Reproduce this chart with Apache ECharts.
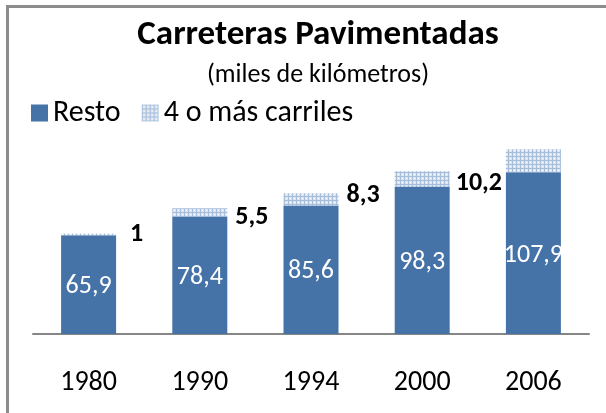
<!DOCTYPE html>
<html><head><meta charset="utf-8">
<script src="https://cdn.jsdelivr.net/npm/echarts@6/dist/echarts.min.js"></script>
<style>html,body{margin:0;padding:0;background:#fff}#c{width:606px;height:413px}</style>
</head><body><div id="c"></div>
<script>
const categories = ['1980', '1990', '1994', '2000', '2006'];
const resto = [65.9, 78.4, 85.6, 98.3, 107.9];
const carriles = [1, 5.5, 8.3, 10.2, 15.2];
const seriesNames = ['Resto', '4 o más carriles'];
// nudges [x, y] of the "4 o más carriles" value labels (px); 2006 label not shown
const carrilesLabelNudge = [[6, 0], [0, 5], [0, -4], [-2, 5]];

const FONT = 'Carlito, Calibri, Lato, sans-serif';
function makePattern() {
  const c = document.createElement('canvas');
  c.width = 4; c.height = 4;
  const g = c.getContext('2d');
  g.fillStyle = '#dbe5f1'; g.fillRect(0, 0, 4, 4);
  g.fillStyle = '#a7bedb'; g.fillRect(0, 0, 4, 1); g.fillRect(0, 0, 1, 4);
  g.fillStyle = '#ffffff'; g.fillRect(2, 2, 1, 1);
  return c;
}
const fmt = p => String(p.value).replace('.', ',');
const chart = echarts.init(document.getElementById('c'), null, {renderer: 'canvas'});
chart.setOption({
  animation: false,
  backgroundColor: '#fff',
  graphic: [{type: 'rect', shape: {x: 7.5, y: 6.5, width: 700, height: 500}, style: {fill: 'none', stroke: '#8c8c8c', lineWidth: 3}, silent: true}],
  title: [
    {text: 'Carreteras Pavimentadas', left: 313, top: 13, textAlign: 'center',
     textStyle: {fontFamily: FONT, fontWeight: 'bold', fontSize: 35, color: '#000'}},
    {text: '(miles de kilómetros)', left: 313, top: 57, textAlign: 'center',
     textStyle: {fontFamily: FONT, fontWeight: 'normal', fontSize: 26, color: '#000'}}
  ],
  legend: {
    left: 26, top: 93, icon: 'rect', itemWidth: 17, itemHeight: 17, itemGap: 21,
    textStyle: {fontFamily: FONT, fontSize: 30, color: '#000', padding: [0, 0, 0, 0]},
    data: seriesNames
  },
  grid: {left: 33, right: 17, top: 139, bottom: 79},
  xAxis: {
    type: 'category', data: categories,
    axisLine: {lineStyle: {color: '#868686', width: 2}},
    axisTick: {show: false},
    axisLabel: {fontFamily: FONT, fontSize: 28, color: '#000', margin: 35}
  },
  yAxis: {type: 'value', min: 0, max: 130, show: false, splitLine: {show: false}},
  series: [
    {name: seriesNames[0], type: 'bar', stack: 't', data: resto, barWidth: 55,
     itemStyle: {color: '#4673a7'},
     label: {show: true, position: 'inside', offset: [0, 2], color: '#fff', fontFamily: FONT, fontSize: 26, formatter: fmt}},
    {name: seriesNames[1], type: 'bar', stack: 't', barWidth: 55,
     data: carriles.map((v, i) => i < carrilesLabelNudge.length
       ? {value: v, label: {offset: carrilesLabelNudge[i]}}
       : {value: v, label: {show: false}}),
     itemStyle: {color: {image: makePattern(), repeat: 'repeat'}},
     label: {show: true, position: 'right', distance: 8, color: '#000', fontFamily: FONT, fontWeight: 'bold', fontSize: 26, formatter: fmt}}
  ]
});
</script></body></html>
